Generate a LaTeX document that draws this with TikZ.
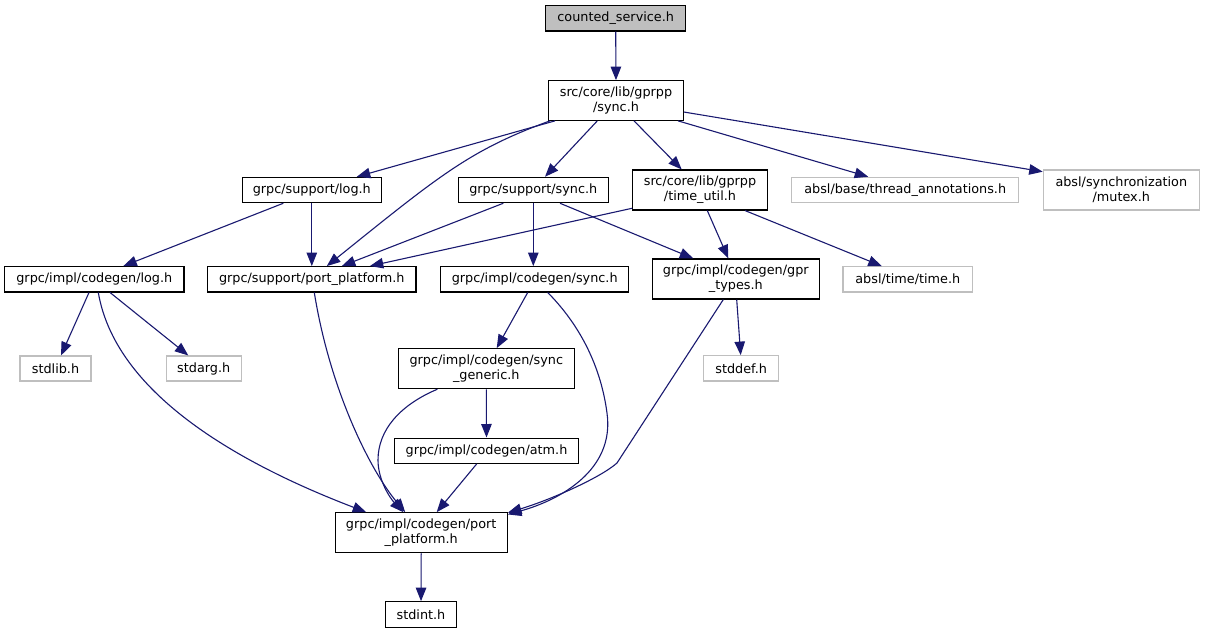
\documentclass[tikz,border=0pt]{standalone}
\usepackage{fontspec}
\setmainfont{DejaVu Sans}
\usetikzlibrary{arrows.meta}
\definecolor{edgecol}{HTML}{191970}
\definecolor{extgray}{HTML}{BFBFBF}
\begin{document}
\begin{tikzpicture}[x=1pt,y=-1pt,
  box/.style={draw=black,line width=1.1pt,inner sep=0pt,align=center,
    font=\fontsize{12.8}{15}\selectfont,fill=white},
  ext/.style={box,draw=extgray},
  dep/.style={draw=edgecol,line width=1.1pt,
    -{Triangle[length=13.5pt,width=10.5pt]}},
]
\useasboundingbox[fill=white] (0,0) rectangle (1205,633);

\node[box,fill=extgray,minimum width=140pt,minimum height=25.3pt] (cs) at (615.7,18.3) {counted\_service.h};
\node[box,minimum width=134.6pt,minimum height=39.6pt] (gs) at (616,100.5) {src/core/lib/gprpp\\/sync.h};
\node[box,minimum width=139pt,minimum height=25.4pt] (sl) at (311.8,190) {grpc/support/log.h};
\node[box,minimum width=150pt,minimum height=25.4pt] (ss) at (533.3,190) {grpc/support/sync.h};
\node[box,minimum width=134.6pt,minimum height=40pt] (tu) at (700,190) {src/core/lib/gprpp\\/time\_util.h};
\node[ext,minimum width=227pt,minimum height=25.4pt] (ta) at (905.2,190) {absl/base/thread\_annotations.h};
\node[ext,minimum width=156pt,minimum height=40pt] (mx) at (1121.3,190) {absl/synchronization\\/mutex.h};
\node[box,minimum width=179.3pt,minimum height=25.3pt] (cl) at (94.3,279.3) {grpc/impl/codegen/log.h};
\node[box,minimum width=208.3pt,minimum height=25.3pt] (sp) at (311.8,279.3) {grpc/support/port\_platform.h};
\node[box,minimum width=188pt,minimum height=25.3pt] (cy) at (534.7,279.3) {grpc/impl/codegen/sync.h};
\node[box,minimum width=167pt,minimum height=40pt] (gt) at (735.8,279) {grpc/impl/codegen/gpr\\\_types.h};
\node[ext,minimum width=129.7pt,minimum height=25.3pt] (tt) at (907.8,279.3) {absl/time/time.h};
\node[ext,minimum width=71pt,minimum height=25pt] (sb) at (55.5,368.5) {stdlib.h};
\node[ext,minimum width=74.7pt,minimum height=25pt] (sa) at (203.7,368.5) {stdarg.h};
\node[box,minimum width=176pt,minimum height=40pt] (sg) at (486.3,368.7) {grpc/impl/codegen/sync\\\_generic.h};
\node[ext,minimum width=75pt,minimum height=25.3pt] (sd) at (741.2,368.3) {stddef.h};
\node[box,minimum width=184.4pt,minimum height=25.3pt] (at) at (486.5,450.7) {grpc/impl/codegen/atm.h};
\node[box,minimum width=172.3pt,minimum height=40pt] (cp) at (421.2,532.7) {grpc/impl/codegen/port\\\_platform.h};
\node[box,minimum width=70.6pt,minimum height=25.6pt] (si) at (421,614.5) {stdint.h};

% edges
\draw[dep] (cs.south) -- (gs.north);
\draw[dep] ([xshift=-61pt]gs.south) -- ([xshift=45pt]sl.north);
\draw[dep] ([xshift=-66pt]gs.south) .. controls (470,150) and (440,175) .. ([xshift=15pt]sp.north);
\draw[dep] ([xshift=-18.7pt]gs.south) -- ([xshift=11.7pt]ss.north);
\draw[dep] ([xshift=18pt]gs.south) -- ([xshift=-18.3pt]tu.north);
\draw[dep] ([xshift=62pt]gs.south) -- ([xshift=-37pt]ta.north);
\draw[dep] ([yshift=-11.5pt]gs.east) -- ([yshift=18.3pt]mx.west);
\draw[dep] ([xshift=-28.5pt]sl.south) -- ([xshift=29pt]cl.north);
\draw[dep] (sl.south) -- (sp.north);
\draw[dep] ([xshift=-30pt]ss.south) -- ([xshift=30pt]sp.north);
\draw[dep] (ss.south) -- (ss.south |- cy.north);
\draw[dep] ([xshift=26.7pt]ss.south) -- ([xshift=-42.5pt]gt.north);
\draw[dep] ([yshift=2.3pt]tu.south west) -- ([xshift=58pt]sp.north);
\draw[dep] ([xshift=7.3pt]tu.south) -- ([xshift=-7.5pt]gt.north);
\draw[dep] ([xshift=45pt]tu.south) -- ([xshift=-26pt]tt.north);
\draw[dep] ([xshift=-5.3pt]cl.south) -- ([xshift=5.5pt]sb.north);
\draw[dep] ([xshift=15.7pt]cl.south) -- ([xshift=-15.4pt]sa.north);
\draw[dep] ([xshift=4pt]cl.south) .. controls (115,390) and (230,460) .. ([xshift=-55pt]cp.north);
\draw[dep] ([xshift=2.5pt]sp.south) .. controls (330,390) and (370,470) .. ([xshift=-16pt]cp.north);
\draw[dep] ([xshift=-7pt]cy.south) -- ([xshift=10.4pt]sg.north);
\draw[dep] ([xshift=13pt]cy.south) .. controls (575,320) and (600,360) .. (607,413) .. controls (615,470) and (560,500) .. ([yshift=-2.3pt]cp.north east);
\draw[dep] ([xshift=0.9pt]gt.south) -- ([xshift=-0.5pt]sd.north);
\draw[dep] ([xshift=-12.5pt]gt.south) -- (617,463) .. controls (600,478) and (550,500) .. ([yshift=-0.5pt]cp.north east);
\draw[dep] (sg.south) -- (at.north);
\draw[dep] ([xshift=-49pt]sg.south) .. controls (400,405) and (378,430) .. (378,460) .. controls (378,480) and (390,498) .. ([xshift=-18pt]cp.north);
\draw[dep] ([xshift=-9.8pt]at.south) -- ([xshift=15.5pt]cp.north);
\draw[dep] (cp.south) -- (si.north);
\end{tikzpicture}
\end{document}
